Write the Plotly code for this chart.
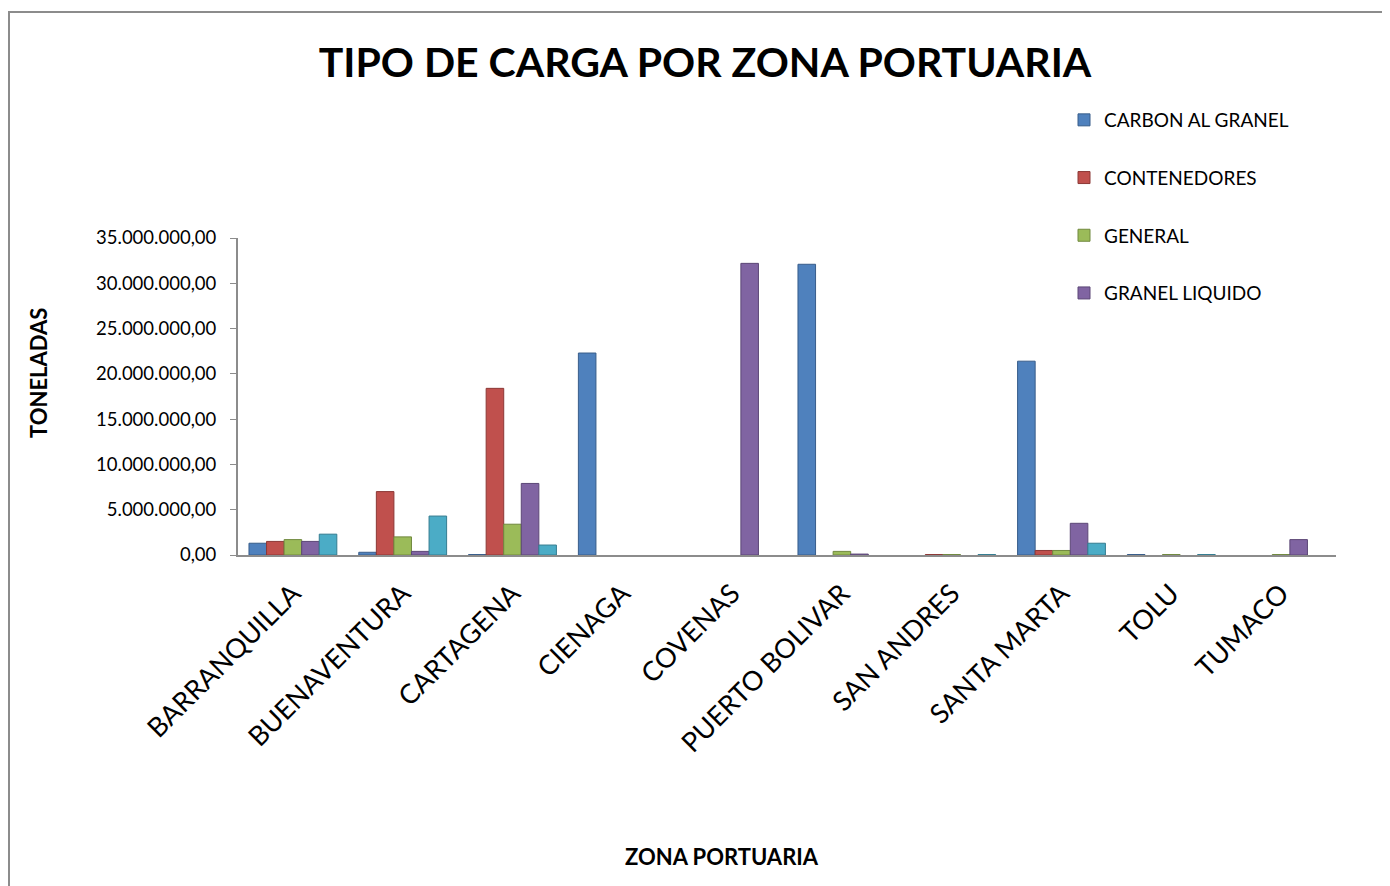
import plotly.graph_objects as go

categories = ["BARRANQUILLA", "BUENAVENTURA", "CARTAGENA", "CIENAGA", "COVENAS",
              "PUERTO BOLIVAR", "SAN ANDRES", "SANTA MARTA", "TOLU", "TUMACO"]

carbon_al_granel = [1300000, 300000, 50000, 22300000, None, 32100000, None, 21400000, 50000, None]
contenedores = [1500000, 7000000, 18400000, None, None, None, 50000, 500000, None, None]
general = [1700000, 2000000, 3400000, None, None, 400000, 50000, 500000, 50000, 50000]
granel_liquido = [1500000, 400000, 7900000, None, 32200000, 100000, None, 3500000, None, 1700000]
granel_solido = [2300000, 4300000, 1100000, None, None, None, 50000, 1300000, 50000, None]

series_names = ["CARBON AL GRANEL", "CONTENEDORES", "GENERAL", "GRANEL LIQUIDO", "GRANEL SOLIDO"]
series_values = [carbon_al_granel, contenedores, general, granel_liquido, granel_solido]
colors = ["#4F81BD", "#C0504D", "#9BBB59", "#8064A2", "#4BACC6"]
edge_colors = ["#385D8A", "#8C3836", "#71893F", "#5C4776", "#357D91"]
y_ticks = [0, 5000000, 10000000, 15000000, 20000000, 25000000, 30000000, 35000000]

OFF = 8  # page body margin
W, H = 1390, 886
L = 238 - OFF
T = 238 - OFF
R = W - (1336 - OFF)
B = H - (555 - OFF)
pw = W - L - R
ph = H - T - B

def px_x(px):
    return (px - OFF - L) / pw

def px_y(py):
    return (H - B - (py - OFF)) / ph

fig = go.Figure()
for i, (name, vals) in enumerate(zip(series_names, series_values)):
    fig.add_trace(go.Bar(
        x=categories, y=vals, name=name,
        marker=dict(color=colors[i], line=dict(color=edge_colors[i], width=1)),
        legendgroup=name, showlegend=(i < 4),
    ))

FONT = "Lato, 'Open Sans', sans-serif"

fig.update_layout(
    width=W, height=H,
    margin=dict(l=L, r=R, t=T, b=B),
    paper_bgcolor="white", plot_bgcolor="white",
    barmode="group", bargap=0.2, bargroupgap=0.0,
    separators=",.",
    font=dict(family=FONT, color="#000000"),
    showlegend=True,
    legend=dict(x=px_x(1064), y=px_y(101), xanchor="left", yanchor="top",
                font=dict(size=19, family=FONT), traceorder="grouped",
                tracegroupgap=30, bgcolor="rgba(0,0,0,0)", itemwidth=30),
    title=dict(text="<b>TIPO DE CARGA POR ZONA PORTUARIA</b>", x=(705 - OFF) / W, xanchor="center",
               y=1 - (63 - OFF) / H, yanchor="middle", font=dict(size=41, family=FONT)),
    xaxis=dict(tickangle=-45, tickfont=dict(size=27, family=FONT), showline=True,
               linecolor="#8C8C8C", linewidth=2, ticks="", showgrid=False,
               ticklabelstandoff=10),
    yaxis=dict(range=[0, 35000000], tickvals=y_ticks, tickformat=",.2f",
               tickfont=dict(size=18.5, family=FONT), showline=True, linecolor="#8C8C8C",
               linewidth=2, ticks="outside", ticklen=6, tickcolor="#8C8C8C",
               ticklabelstandoff=10,
               showgrid=False, zeroline=False),
    shapes=[
        dict(type="rect", xref="paper", yref="paper", x0=px_x(9), y0=px_y(900),
             x1=px_x(1400), y1=px_y(12), line=dict(color="#8C8C8C", width=2),
             fillcolor="rgba(0,0,0,0)", layer="below"),
    ],
    annotations=[
        dict(text="<b>ZONA PORTUARIA</b>", xref="paper", yref="paper", x=px_x(722),
             y=px_y(856), showarrow=False, font=dict(size=22, family=FONT),
             xanchor="center", yanchor="middle"),
        dict(text="<b>TONELADAS</b>", xref="paper", yref="paper", x=px_x(38),
             y=px_y(373), showarrow=False, textangle=-90, font=dict(size=22, family=FONT),
             xanchor="center", yanchor="middle"),
    ],
)

fig.write_html("out.html")
